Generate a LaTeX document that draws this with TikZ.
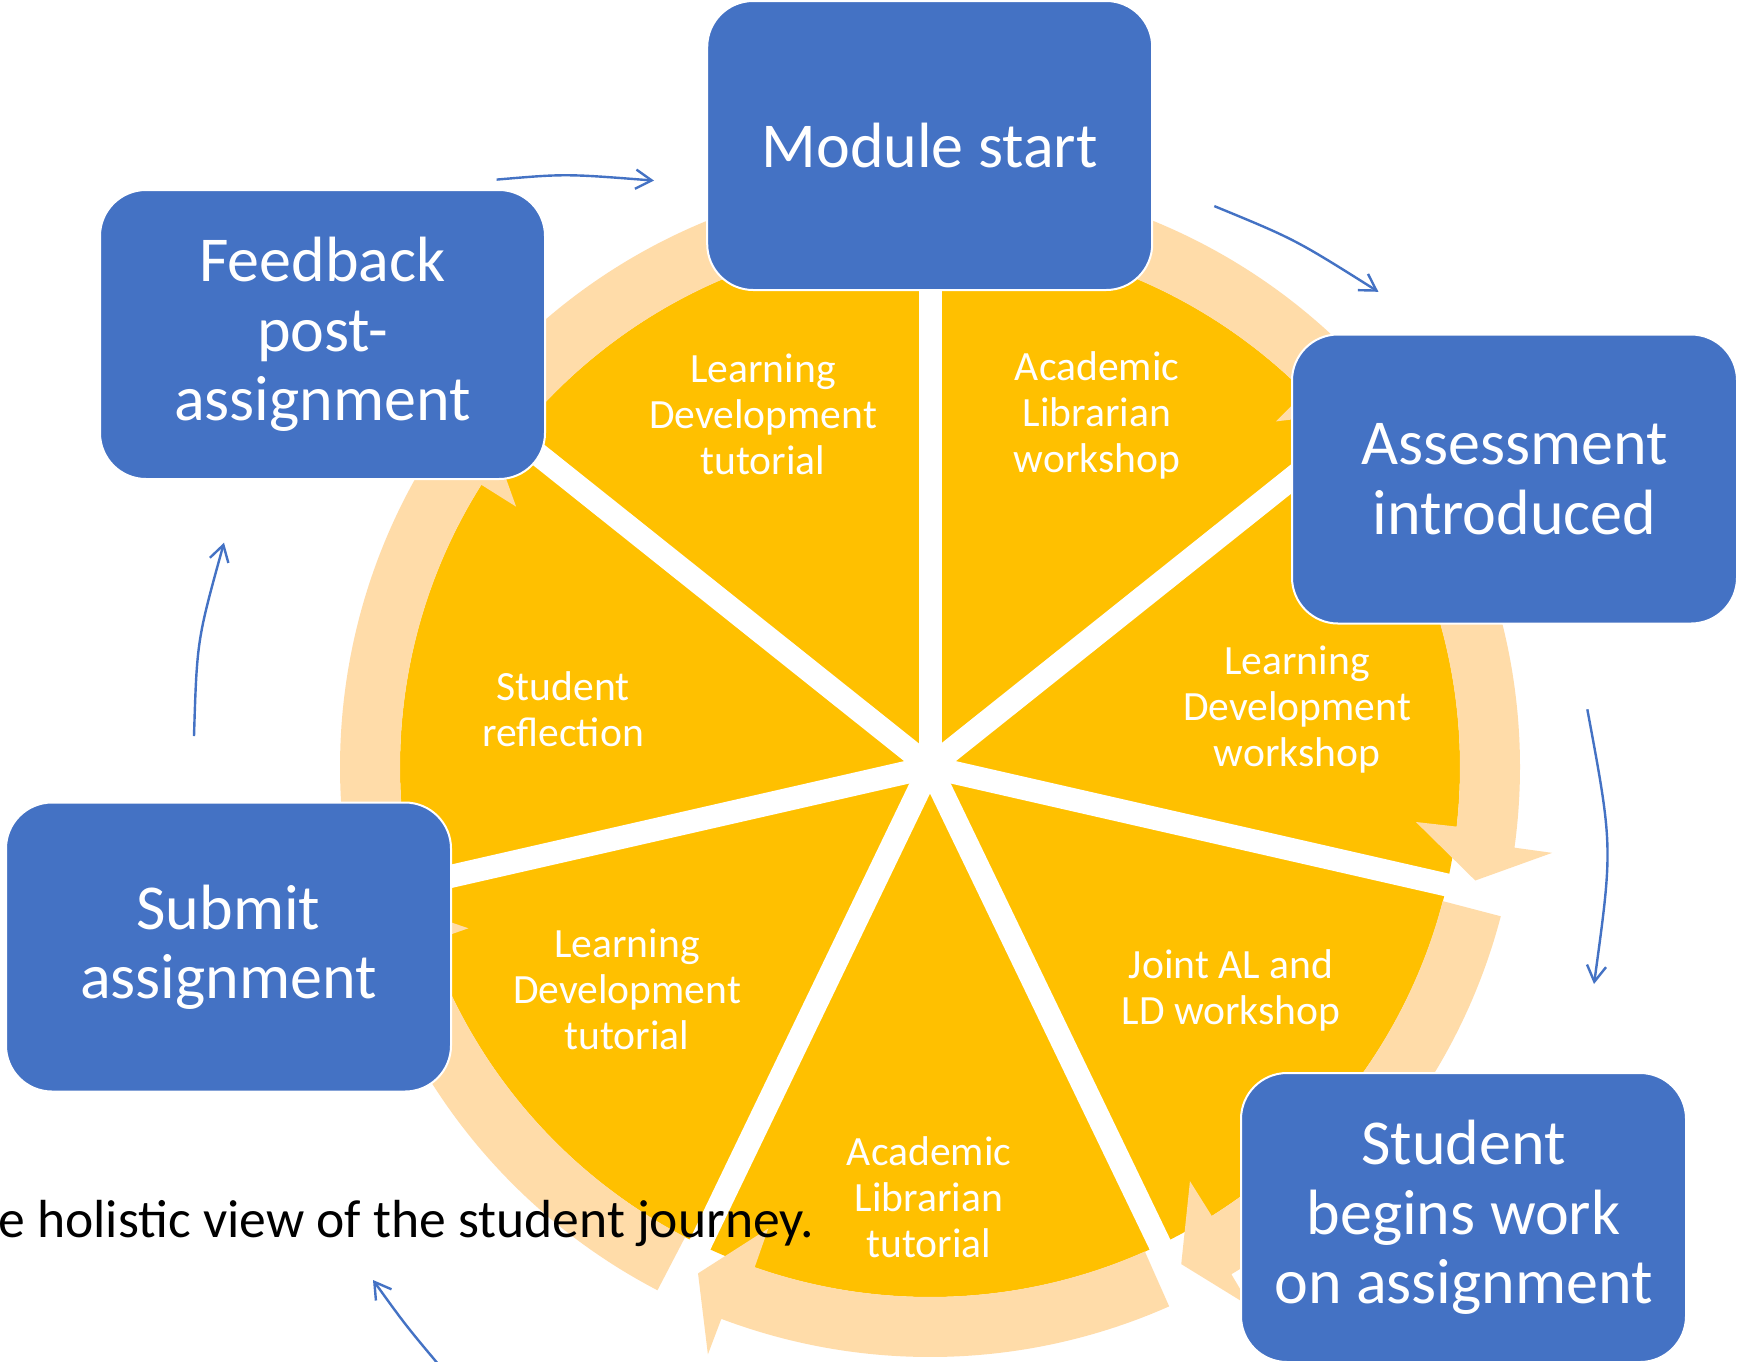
\documentclass[tikz,border=0pt]{standalone}
\usepackage{fontspec}
\setmainfont{Carlito}
\usetikzlibrary{arrows.meta}
\definecolor{boxblue}{HTML}{4472C4}
\definecolor{pieyellow}{HTML}{FFC000}
\definecolor{ringpeach}{HTML}{FFDCA9}
\begin{document}
\begin{tikzpicture}[x=0.5pt,y=-0.5pt,
  stagebox/.style={rectangle, rounded corners=23pt, minimum width=222.5pt, minimum height=144.5pt, inner sep=0pt, fill=boxblue, draw=white, line width=1pt, text=white, align=center, font=\fontsize{32}{34.7}\selectfont},
  seglabel/.style={text=white, align=center, inner sep=0pt, font=\fontsize{20.8}{23}\selectfont},
  flow/.style={draw=boxblue, line width=1.2pt, -{Straight Barb[length=8pt,width=9.6pt]}},
]
\useasboundingbox (0,0) rectangle (1738,1361);
\fill[white] (0,0) rectangle (1738,1361);

% segmented cycle
\begin{scope}[shift={(930,767)}, yscale=-1]
  \fill[pieyellow] (0,0) circle[radius=530];
  \foreach \k in {0,...,6} {
    \pgfmathsetmacro{\a}{90-\k*360/7}
    \draw[white, line width=11.5pt] (0,0) -- (\a:620);
  }
  \foreach \k in {0,...,6} {
    \pgfmathsetmacro{\sa}{90-\k*360/7-1.8}
    \pgfmathsetmacro{\hi}{90-(\k+1)*360/7+6.4}
    \pgfmathsetmacro{\ho}{90-(\k+1)*360/7+5}
    \pgfmathsetmacro{\tp}{90-(\k+1)*360/7+1.1}
    \fill[ringpeach] (\sa:530) arc[start angle=\sa, end angle=\hi, radius=530]
      -- (\hi:489) -- (\tp:557) -- (\ho:628) -- (\ho:590)
      arc[start angle=\ho, end angle=\sa, radius=590] -- cycle;
  }
\end{scope}

% segment labels
\node[seglabel] (alw) at (1097,415) {Academic\\Librarian\\workshop};
\node[seglabel] (ldw) at (1297,710) {Learning\\Development\\workshop};
\node[seglabel] (joint) at (1231,990) {Joint AL and\\LD workshop};
\node[seglabel] (alt) at (929,1197) {Academic\\Librarian\\tutorial};
\node[seglabel] (ldt2) at (627,989) {Learning\\Development\\tutorial};
\node[seglabel] (refl) at (563,709) {Student\\reflection};
\node[seglabel] (ldt1) at (763,414) {Learning\\Development\\tutorial};

% stage boxes
\node[stagebox] (start) at (929.7,145.5) {Module start};
\node[stagebox] (feedback) at (322.5,334.5) {Feedback\\post-\\assignment};
\node[stagebox] (assess) at (1514.5,479) {Assessment\\introduced};
\node[stagebox] (submit) at (228.5,947) {Submit\\assignment};
\node[stagebox] (begins) at (1463.5,1217.5) {Student\\begins work\\on assignment};

% flow arrows
\coordinate (f1s) at (496.6,179.6); \coordinate (f1e) at (654,180.6);
\coordinate (f2s) at (1214.3,206.1); \coordinate (f2e) at (1378.4,291.8);
\coordinate (f3s) at (1587.3,709.3); \coordinate (f3e) at (1594,984);
\coordinate (f4s) at (194,736); \coordinate (f4e) at (224,542.7);
\coordinate (f5s) at (444,1371); \coordinate (f5e) at (373,1280);
\draw[flow] (f1s) .. controls (565.4,173.7) .. (f1e);
\draw[flow] (f2s) .. controls (1295.2,239.4) .. (f2e);
\draw[flow] (f3s) .. controls (1612.9,846.7) .. (f3e);
\draw[flow] (f4s) .. controls (197,640.2) .. (f4e);
\draw[flow] (f5s) .. controls (405.8,1325.5) .. (f5e);

% caption fragment
\node[anchor=base west, inner sep=0pt, font=\fontsize{26.8}{32}\selectfont] (caption) at (-2,1237) {e holistic view of the student journey.};
\end{tikzpicture}
\end{document}
